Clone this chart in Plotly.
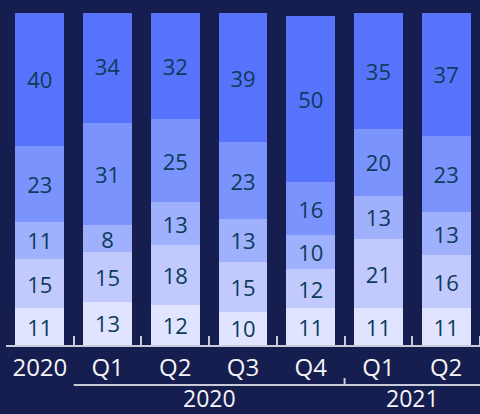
import plotly.graph_objects as go

tick_labels = ["2020", "Q1", "Q2", "Q3", "Q4", "Q1", "Q2"]
group_labels = ["2020", "2021"]
s1 = [11, 13, 12, 10, 11, 11, 11]
s2 = [15, 15, 18, 15, 12, 21, 16]
s3 = [11, 8, 13, 13, 10, 13, 13]
s4 = [23, 31, 25, 23, 16, 20, 23]
s5 = [40, 34, 32, 39, 50, 35, 37]

series = [s1, s2, s3, s4, s5]
colors = ["#e0e4fe", "#c2cafd", "#9fb0fd", "#7b93fd", "#5873fb"]
x = list(range(len(tick_labels)))

BG = "#161d4f"
TXT = "#0d3b5a"
LINE = "#c8cad8"
FONT = "Open Sans"

fig = go.Figure()
for vals, col in zip(series, colors):
    fig.add_trace(go.Bar(
        x=x, y=vals, marker=dict(color=col, line=dict(width=0)),
        text=[str(v) for v in vals], textposition="inside",
        insidetextanchor="middle", textangle=0,
        textfont=dict(family=FONT, size=22, color=TXT),
        hoverinfo="skip", showlegend=False,
    ))

fig.update_layout(
    barmode="stack", bargap=0.28,
    width=480, height=414,
    margin=dict(l=6, r=0, t=13, b=69),
    paper_bgcolor=BG, plot_bgcolor=BG,
    uniformtext=dict(minsize=22, mode="show"),
    font=dict(family=FONT, color="#f4f4f8", size=21),
    xaxis=dict(
        tickmode="array", tickvals=x, ticktext=tick_labels,
        range=[-0.5, len(x) - 0.5],
        showline=True, linecolor=LINE, linewidth=2,
        ticks="", showgrid=False, zeroline=False,
        tickfont=dict(family=FONT, size=24, color="#f4f4f8"),
        minor=dict(tickmode="array", tickvals=[i + 0.5 for i in x],
                   ticks="inside", ticklen=9, tickwidth=2, tickcolor=LINE,
                   showgrid=False),
    ),
    yaxis=dict(range=[0, 100], visible=False, showgrid=False, zeroline=False),
)

# group separator line and tick
fig.add_shape(type="line", xref="x", yref="paper", x0=0.5, x1=len(x) - 0.5,
              y0=-0.1205, y1=-0.1205, line=dict(color=LINE, width=2))
fig.add_shape(type="line", xref="x", yref="paper", x0=4.5, x1=4.5,
              y0=-0.1205, y1=-0.0994, line=dict(color=LINE, width=2))

for gx, gl in zip([2.5, 5.5], group_labels):
    fig.add_annotation(x=gx, xref="x", y=-0.1596, yref="paper", text=gl,
                       showarrow=False, yanchor="middle",
                       font=dict(family=FONT, size=23, color="#f4f4f8"))

fig.write_html(
    "out.html",
    config={"displayModeBar": False},
    post_script="document.body.style.margin='0';document.body.style.overflow='hidden';",
)
